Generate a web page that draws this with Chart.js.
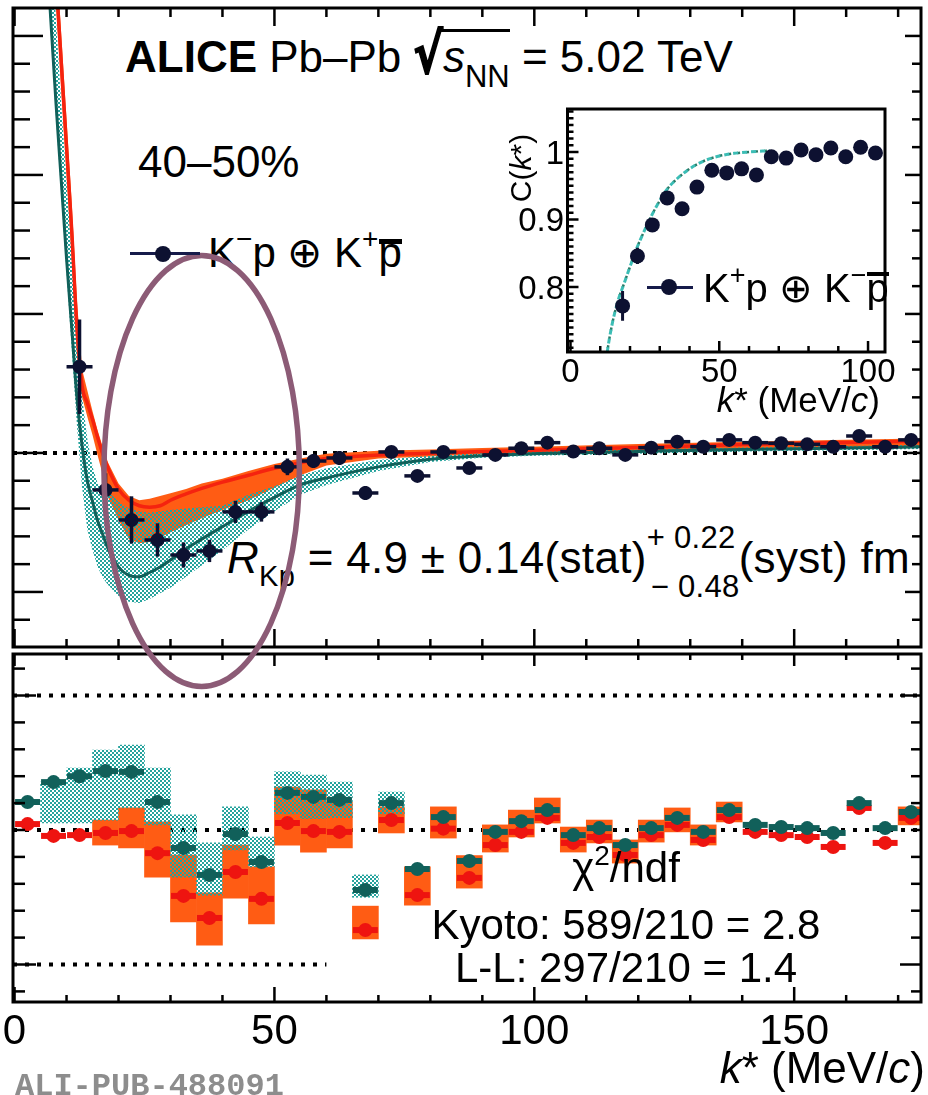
<!DOCTYPE html>
<html>
<head>
<meta charset="utf-8">
<title>K⁻p correlation function, Pb–Pb 5.02 TeV, 40–50%</title>
<script src="https://cdn.jsdelivr.net/npm/chart.js@4.4.1/dist/chart.umd.min.js"></script>
<style>
  html, body { margin: 0; padding: 0; background: #fff; }
  #fig { position: relative; width: 928px; height: 1095px; overflow: hidden; background: #fff;
         font-family: "Liberation Sans", Arial, Helvetica, sans-serif; color: #000; }
  #fig canvas { position: absolute; }
  #cLower { left: 0; top: 640px; z-index: 1; }
  #cMain  { left: 0; top: 0; z-index: 3; }
  #cInset { left: 560px; top: 100px; z-index: 4; }
  .t { position: absolute; white-space: nowrap; line-height: 1; z-index: 2; }
  .hi { z-index: 5; }
  .sup { position: relative; }
  .pbar { position: relative; }
  .pbar::before { content: ""; position: absolute; left: 1px; right: 0; height: 5px; background: #000; }
  .lg1 .pbar::before { top: 10px; }
  .lg2 .pbar::before { top: 6px; height: 4px; }
  .root { font-family: "DejaVu Sans", sans-serif; font-weight: bold; display: inline-block;
          transform: scale(1.0, 1.25); transform-origin: 50% 75%; -webkit-text-stroke: 1.5px #000; }
  .ovl { border-top: 3px solid #000; }
  .pm { display: inline-block; position: relative; width: 92px; height: 1px; }
  .pm span { position: absolute; font-size: 31px; line-height: 1; }
  .sym-line { position: absolute; height: 3px; background: #161b4a; z-index: 5; }
  .sym-dot { position: absolute; border-radius: 50%; background: #0d1131; z-index: 5; }
  .tick { position: absolute; white-space: nowrap; line-height: 1; z-index: 5; }
</style>
</head>
<body>
<div id="fig">
  <canvas id="cLower" width="928" height="455"></canvas>
  <canvas id="cMain" width="928" height="700"></canvas>
  <canvas id="cInset" width="335" height="262"></canvas>

  <div class="t" style="left:125px;top:35px;font-size:44px"><b>ALICE</b> Pb–Pb <span class="root">√</span><span class="ovl"><i>s</i><span class="sup" style="top:15px;font-size:31px">NN</span></span> = 5.02 TeV</div>
  <div class="t" style="left:138px;top:140px;font-size:44px">40–50%</div>

  <div class="sym-line" style="left:130px;top:252px;width:70px"></div>
  <div class="sym-dot" style="left:155px;top:246px;width:16px;height:16px"></div>
  <div class="t lg1" style="left:208px;top:232px;font-size:42px">K<span class="sup" style="top:-19px;font-size:28px">−</span>p ⊕ K<span class="sup" style="top:-19px;font-size:28px">+</span><span class="pbar">p</span></div>

  <div class="t" style="left:227px;top:536px;font-size:44px;letter-spacing:0.3px"><i>R</i><span class="sup" style="top:13px;font-size:29px">Kp</span> = 4.9 ± 0.14(stat)<span class="pm"><span style="left:0;top:-50px">+ 0.22</span><span style="left:4px;top:-1px">− 0.48</span></span>(syst) fm</div>

  <div class="t" style="left:376px;width:500px;text-align:center;top:847px;font-size:42px">χ<span class="sup" style="top:-17px;font-size:28px">2</span>/ndf</div>
  <div class="t" style="left:376px;width:500px;text-align:center;top:904px;font-size:42px">Kyoto: 589/210 = 2.8</div>
  <div class="t" style="left:376px;width:500px;text-align:center;top:947px;font-size:42px">L-L: 297/210 = 1.4</div>

  <div id="xLabels"></div>
  <div class="t" style="right:3px;top:1046px;font-size:44px"><i>k</i>* (MeV/<i>c</i>)</div>
  <div class="t" style="left:15px;top:1071px;font-size:32px;font-family:'Liberation Mono',monospace;font-weight:bold;color:#8d8d8d">ALI-PUB-488091</div>

  <div id="insetLabels"></div>
  <div class="t hi" style="left:521px;top:168px;font-size:30px;transform:translate(-50%,-50%) rotate(-90deg)">C(<i>k</i>*)</div>
  <div class="t hi" style="right:48px;top:382px;font-size:35px"><i>k</i>* (MeV/<i>c</i>)</div>
  <div class="sym-line" style="left:647px;top:286px;width:46px"></div>
  <div class="sym-dot" style="left:661px;top:279px;width:16px;height:16px"></div>
  <div class="t hi lg2" style="left:703px;top:268px;font-size:40px">K<span class="sup" style="top:-18px;font-size:27px">+</span>p ⊕ K<span class="sup" style="top:-18px;font-size:27px">−</span><span class="pbar">p</span></div>
</div>

<script>
// ---------- K⁻p ⊕ K⁺p̄ correlation function, 40–50% ----------
const kStar = [12.5, 17.5, 22.5, 27.5, 32.5, 37.5, 42.5, 47.5, 52.5, 57.5, 62.5, 67.5, 72.5, 77.5, 82.5, 87.5,
               92.5, 97.5, 102.5, 107.5, 112.5, 117.5, 122.5, 127.5, 132.5, 137.5, 142.5, 147.5, 152.5, 157.5,
               162.5, 167.5, 172.5];
const cfMain = [1.062, 0.9734, 0.9518, 0.9374, 0.9266, 0.9295, 0.9576, 0.9576, 0.990, 0.9942, 0.9964, 0.9712,
                1.0007, 0.9835, 1.0007, 0.9892, 0.9986, 1.0034, 1.0074, 1.0010, 1.0034, 0.9986, 1.0038, 1.0081,
                1.0045, 1.0094, 1.0074, 1.0070, 1.0062, 1.0045, 1.0122, 1.0045, 1.0094];
const cfStat = [0.034, 0.012, 0.017, 0.012, 0.009, 0.008, 0.008, 0.007, 0.006, 0.005, 0.005, 0.005,
                0.004, 0.004, 0.004, 0.004, 0.004, 0.004, 0.004, 0.004, 0.004, 0.004, 0.004, 0.004,
                0.004, 0.004, 0.004, 0.004, 0.004, 0.004, 0.004, 0.004, 0.004];
const binHalfWidth = 2.5;

// ---------- model curves (Kyoto and Lednický–Lyuboshitz) ----------
const kModel    = [6, 7, 8, 9, 10, 11, 12, 13, 14, 15, 16, 17, 18, 20, 22, 24, 26, 28, 30, 33,
                   36, 40, 45, 50, 55, 60, 70, 80, 90, 100, 120, 140, 160, 176];
const kyotoLine = [1.47, 1.40, 1.34, 1.28, 1.22, 1.16, 1.09, 1.048, 1.036, 1.024, 1.011, 0.999, 0.989, 0.974,
                   0.966, 0.962, 0.961, 0.962, 0.966, 0.9705, 0.9745, 0.979, 0.984, 0.989, 0.993, 0.996,
                   0.9985, 0.9998, 1.001, 1.002, 1.004, 1.006, 1.0075, 1.0085];
const kyotoUp   = [1.49, 1.42, 1.36, 1.30, 1.24, 1.18, 1.11, 1.06, 1.045, 1.03, 1.016, 1.004, 0.993, 0.978,
                   0.969, 0.966, 0.967, 0.969, 0.971, 0.974, 0.978, 0.9815, 0.987, 0.992, 0.996, 0.9995,
                   1.0015, 1.0025, 1.0035, 1.0045, 1.0065, 1.008, 1.0095, 1.0105];
const kyotoLow  = [1.45, 1.38, 1.32, 1.26, 1.20, 1.14, 1.07, 1.04, 1.026, 1.013, 0.998, 0.984, 0.968, 0.952,
                   0.938, 0.935, 0.936, 0.939, 0.943, 0.948, 0.953, 0.959, 0.966, 0.975, 0.984, 0.991,
                   0.996, 0.9975, 0.999, 0.9995, 1.001, 1.002, 1.0035, 1.0045];
const llLine    = [1.37, 1.31, 1.25, 1.195, 1.14, 1.09, 1.04, 1.005, 0.98, 0.965, 0.951, 0.941, 0.931, 0.918,
                   0.912, 0.911, 0.914, 0.918, 0.923, 0.931, 0.938, 0.947, 0.958, 0.968, 0.977, 0.982,
                   0.990, 0.9955, 0.998, 0.9995, 1.001, 1.0025, 1.0035, 1.0045];
const llUp      = [1.43, 1.37, 1.31, 1.25, 1.195, 1.14, 1.085, 1.04, 1.01, 0.99, 0.978, 0.975, 0.972, 0.965,
                   0.96, 0.958, 0.957, 0.958, 0.959, 0.96, 0.961, 0.962, 0.97, 0.976, 0.984, 0.989,
                   0.995, 0.998, 1.0, 1.001, 1.0025, 1.004, 1.005, 1.006];
const llLow     = [1.36, 1.30, 1.24, 1.185, 1.13, 1.075, 1.02, 0.975, 0.945, 0.93, 0.918, 0.91, 0.905, 0.897,
                   0.893, 0.892, 0.895, 0.899, 0.903, 0.911, 0.919, 0.93, 0.945, 0.958, 0.970, 0.977,
                   0.987, 0.9935, 0.9965, 0.998, 0.9995, 1.001, 1.002, 1.003];

// ---------- deviation panel (n sigma per bin) ----------
const kDev = [2.5, 7.5, 12.5, 17.5, 22.5, 27.5, 32.5, 37.5, 42.5, 47.5, 52.5, 57.5, 62.5, 67.5, 72.5, 77.5,
              82.5, 87.5, 92.5, 97.5, 102.5, 107.5, 112.5, 117.5, 122.5, 127.5, 132.5, 137.5, 142.5, 147.5,
              152.5, 157.5, 162.5, 167.5, 172.5];
const devLL    = [1.04, 1.78, 2.0, 2.19, 2.16, 1.04, -0.67, -1.67, -0.15, -1.19, 1.38, 1.23, 1.12, -2.23, 1.0,
                  -1.45, 0.48, -1.15, -0.07, 0.33, 0.74, -0.19, 0.07, -0.56, 0.07, 0.45, -0.07, 0.74, 0.19,
                  0.11, 0.07, -0.11, 1.0, 0.07, 0.67];
const devKyoto = [0.22, -0.22, -0.19, -0.11, -0.04, -0.86, -2.45, -3.27, -1.56, -2.56, 0.26, -0.04, -0.07,
                  -3.72, 0.37, -2.42, 0.05, -1.78, -0.56, -0.07, 0.45, -0.48, -0.26, -0.93, -0.19, 0.19,
                  -0.37, 0.48, -0.07, -0.19, -0.26, -0.63, 0.82, -0.48, 0.45];
const sysKyoto = [null, null, null, [-0.56, 0.37], [-0.67, 0.82], [-1.75, 0.3], [-3.42, -0.93], [-4.28, -2.34],
                  [-2.53, -0.56], [-3.49, -1.37], [-0.56, 1.6], [-0.82, 1.49], [-0.67, 1.04], [-4.05, -2.83],
                  [-0.11, 0.86], [-2.79, -1.37], [-0.3, 0.86], [-2.16, -0.95], [-0.82, 0.19], [-0.26, 0.74],
                  [0.26, 1.19], [-0.82, 0.11], [-0.48, 0.37], [-1.23, -0.37], [-0.45, 0.37], [-0.07, 0.82],
                  [-0.56, 0.19], [0.3, 1.04], null, null, null, null, null, null, [0.19, 0.86]];
const sysLL    = [null, [0.26, 1.78], [0.26, 2.3], [0.37, 2.97], [0.82, 3.16], [0.19, 2.3], [-1.75, 0.56],
                  [-2.42, -0.48], [-0.74, 0.86], [-1.37, -0.26], [0.6, 2.16], [0.42, 2.04], [0.46, 1.78],
                  [-2.5, -1.67], [0.6, 1.41], null, null, null, null, null, null, null, null, null, null,
                  null, null, null, null, null, null, null, null, null, null];

// ---------- inset: K⁺p ⊕ K⁻p̄ ----------
const kInset       = [17.5, 22.5, 27.5, 32.5, 37.5, 42.5, 47.5, 52.5, 57.5, 62.5, 67.5, 72.5, 77.5, 82.5,
                      87.5, 92.5, 97.5, 102.5];
const cfInset      = [0.772, 0.846, 0.892, 0.932, 0.916, 0.948, 0.973, 0.969, 0.975, 0.966, 0.993, 0.991,
                      1.003, 0.996, 1.006, 0.993, 1.007, 0.9985];
const cfInsetStat  = [0.022, 0.012, 0.009, 0.008, 0.007, 0.006, 0.006, 0.005, 0.005, 0.005, 0.004, 0.004,
                      0.004, 0.004, 0.004, 0.004, 0.004, 0.004];
const kInsetModel  = [12.0, 12.4, 14, 16, 18, 20, 22.5, 25, 27.5, 30, 32.5, 35, 40, 45, 50, 55, 60, 67];
const cfInsetModel = [0.69, 0.705, 0.745, 0.78, 0.805, 0.83, 0.86, 0.885, 0.908, 0.928, 0.945, 0.957,
                      0.975, 0.987, 0.994, 0.998, 1.0, 1.002];

// ---------- axis labels ----------
const xTickValues = [0, 50, 100, 150];
const xTickLabels = ['0', '50', '100', '150'];
const insetXTickValues = [0, 50, 100];
const insetXTickLabels = ['0', '50', '100'];
const insetYTickValues = [1.0, 0.9, 0.8];
const insetYTickLabels = ['1', '0.9', '0.8'];

// ---------- colours ----------
const C_DATA = '#0d1131';
const C_RED = '#f5230f';
const C_RED_PT = '#ee1410';
const C_ORANGE = '#ff5c14';
const C_TEAL_DARK = '#11605a';
const C_TEAL = '#25a39d';
const C_RING = '#8c5b76';

function checker(color) {
  const c = document.createElement('canvas');
  c.width = 4; c.height = 4;
  const g = c.getContext('2d');
  g.fillStyle = color;
  g.fillRect(0, 0, 2, 2);
  g.fillRect(2, 2, 2, 2);
  return g.createPattern(c, 'repeat');
}

const pts = (xs, ys) => xs.map((x, i) => ({ x: x, y: ys[i] }));
// closed outline of a band: upper edge left to right, lower edge back
const bandOutline = (xs, up, low) => pts(xs, up).concat(pts(xs, low).reverse());
const seq = (a, b, s) => { const o = []; for (let v = a; v <= b + 1e-9; v += s) o.push(Math.round(v * 1000) / 1000); return o; };

// tick layout per panel (lengths in px: [major, minor])
const FRAMES = {
  cMain:  { xTicks: seq(0, 170, 10), xMajor: [0, 50, 100, 150], yTicks: seq(0.88, 1.30, 0.02), yMajor: [0.9, 1.0, 1.1, 1.2, 1.3],
            bottom: [18, 8], top: [18, 9], left: [30, 17], right: [16, 9] },
  cLower: { xTicks: seq(0, 170, 10), xMajor: [0, 50, 100, 150], yTicks: seq(-6, 6, 1), yMajor: [-5, 5],
            bottom: [15, 7], top: [12, 6], left: [23, 12], right: [21, 10] },
  cInset: { xTicks: seq(0, 100, 10), xMajor: [0, 50, 100], yTicks: seq(0.71, 1.06, 0.01), yMajor: [0.8, 0.9, 1.0],
            bottom: [11, 6], top: null, left: [11, 6], right: null, background: '#fff' }
};

const errorBarPlugin = {
  id: 'errorBars',
  beforeDatasetDraw(chart, args) {
    const ds = chart.data.datasets[args.index];
    const eb = ds.errorBars;
    if (!eb) return;
    const xs = chart.scales.x, ys = chart.scales.y, ctx = chart.ctx, a = chart.chartArea;
    ctx.save();
    ctx.beginPath(); ctx.rect(a.left, a.top, a.right - a.left, a.bottom - a.top); ctx.clip();
    ctx.strokeStyle = eb.color; ctx.lineCap = 'butt';
    ds.data.forEach(p => {
      const px = xs.getPixelForValue(p.x), py = ys.getPixelForValue(p.y);
      if (p.xe) {
        ctx.lineWidth = eb.h;
        ctx.beginPath();
        ctx.moveTo(xs.getPixelForValue(p.x - p.xe), py);
        ctx.lineTo(xs.getPixelForValue(p.x + p.xe), py);
        ctx.stroke();
      }
      if (p.ye) {
        ctx.lineWidth = eb.v;
        ctx.beginPath();
        ctx.moveTo(px, ys.getPixelForValue(p.y - p.ye));
        ctx.lineTo(px, ys.getPixelForValue(p.y + p.ye));
        ctx.stroke();
      }
    });
    ctx.restore();
  }
};

const framePlugin = {
  id: 'frameTicks',
  beforeDraw(chart) {
    const f = FRAMES[chart.canvas.id];
    if (!f || !f.background) return;
    const a = chart.chartArea, ctx = chart.ctx;
    ctx.save(); ctx.fillStyle = f.background;
    ctx.fillRect(a.left, a.top, a.right - a.left, a.bottom - a.top);
    ctx.restore();
  },
  afterDatasetsDraw(chart) {
    const f = FRAMES[chart.canvas.id];
    if (!f) return;
    const a = chart.chartArea, ctx = chart.ctx, xs = chart.scales.x, ys = chart.scales.y;
    ctx.save();
    ctx.strokeStyle = '#000'; ctx.lineWidth = 2.5; ctx.lineCap = 'butt';
    const seg = (x1, y1, x2, y2) => { ctx.beginPath(); ctx.moveTo(x1, y1); ctx.lineTo(x2, y2); ctx.stroke(); };
    const isMajor = (list, v) => list.some(m => Math.abs(m - v) < 1e-6);
    f.xTicks.forEach(v => {
      const px = xs.getPixelForValue(v);
      if (px < a.left + 1 || px > a.right - 1) return;
      const mj = isMajor(f.xMajor, v);
      if (f.bottom) seg(px, a.bottom, px, a.bottom - (mj ? f.bottom[0] : f.bottom[1]));
      if (f.top) seg(px, a.top, px, a.top + (mj ? f.top[0] : f.top[1]));
    });
    f.yTicks.forEach(v => {
      const py = ys.getPixelForValue(v);
      if (py < a.top + 1 || py > a.bottom - 1) return;
      const mj = isMajor(f.yMajor, v);
      if (f.left) seg(a.left, py, a.left + (mj ? f.left[0] : f.left[1]), py);
      if (f.right) seg(a.right, py, a.right - (mj ? f.right[0] : f.right[1]), py);
    });
    ctx.lineWidth = 3;
    ctx.strokeRect(a.left, a.top, a.right - a.left, a.bottom - a.top);
    ctx.restore();
  }
};

// highlight ring around the minimum, given in (k*, C) units
const RING = { k: 36, c: 0.987, dk: 18.8, dc: 0.155 };
const ringPlugin = {
  id: 'ring',
  afterDraw(chart) {
    if (chart.canvas.id !== 'cMain') return;
    const xs = chart.scales.x, ys = chart.scales.y, ctx = chart.ctx;
    const cx = xs.getPixelForValue(RING.k), cy = ys.getPixelForValue(RING.c);
    const rx = xs.getPixelForValue(RING.k + RING.dk) - cx;
    const ry = cy - ys.getPixelForValue(RING.c + RING.dc);
    ctx.save();
    ctx.strokeStyle = C_RING; ctx.lineWidth = 5.5;
    ctx.beginPath(); ctx.ellipse(cx, cy, rx, ry, 0, 0, Math.PI * 2); ctx.stroke();
    ctx.restore();
  }
};

Chart.register(errorBarPlugin, framePlugin, ringPlugin);

const common = {
  responsive: false, animation: false, events: [],
  plugins: { legend: { display: false }, tooltip: { enabled: false } },
  elements: { point: { radius: 0 },
              line: { cubicInterpolationMode: 'monotone', borderCapStyle: 'butt', capBezierPoints: false } }
};
const noLine = 'rgba(0,0,0,0)';
const dotted = (data, dash) => ({ type: 'line', data: data, borderColor: '#000', borderWidth: 4,
  borderDash: dash, cubicInterpolationMode: 'default', tension: 0, pointRadius: 0, fill: false });
const band = (label, order, data, color) => ({ label: label, order: order, data: data, borderColor: noLine,
  borderWidth: 0, backgroundColor: color, fill: 'shape', cubicInterpolationMode: 'default', tension: 0 });

// ---------- upper panel ----------
const mainChart = new Chart(document.getElementById('cMain'), {
  type: 'line',
  data: { datasets: [
    { type: 'scatter', label: 'K⁻p ⊕ K⁺p̄', order: 0,
      data: kStar.map((k, i) => ({ x: k, y: cfMain[i], xe: binHalfWidth, ye: cfStat[i] })),
      pointRadius: 7, pointBackgroundColor: C_DATA, pointBorderWidth: 0, showLine: false,
      errorBars: { color: C_DATA, h: 3.5, v: 3.5 } },
    { label: 'L-L', order: 1, data: pts(kModel, llLine), borderColor: C_TEAL_DARK, borderWidth: 3, fill: false },
    { label: 'Kyoto', order: 2, data: pts(kModel, kyotoLine), borderColor: C_RED, borderWidth: 3.5, fill: false },
    band('L-L band', 3, bandOutline(kModel, llUp, llLow), checker(C_TEAL)),
    band('Kyoto band', 4, bandOutline(kModel, kyotoUp, kyotoLow), C_ORANGE),
    Object.assign(dotted([{ x: -0.3, y: 1 }, { x: 174.4, y: 1 }], [4, 6]), { label: 'C = 1', order: 5 })
  ]},
  options: Object.assign({}, common, {
    layout: { padding: { left: 13, right: 5, top: 8, bottom: 53 } },
    scales: {
      x: { type: 'linear', min: -0.3, max: 174.4, display: false },
      y: { type: 'linear', min: 0.8604, max: 1.3201, display: false }
    }
  })
});

// ---------- lower panel ----------
const boxes = list => kDev.map((k, i) => list[i] ? { x: k, y: list[i] } : null).filter(Boolean);
const lowerChart = new Chart(document.getElementById('cLower'), {
  type: 'bar',
  data: { datasets: [
    { type: 'scatter', label: 'L-L', order: 0,
      data: kDev.map((k, i) => ({ x: k, y: devLL[i], xe: 2.4 })),
      pointRadius: 7, pointBackgroundColor: C_TEAL_DARK, pointBorderWidth: 0,
      errorBars: { color: C_TEAL_DARK, h: 6, v: 0 } },
    { type: 'scatter', label: 'Kyoto', order: 1,
      data: kDev.map((k, i) => ({ x: k, y: devKyoto[i], xe: 2.4 })),
      pointRadius: 7, pointBackgroundColor: C_RED_PT, pointBorderWidth: 0,
      errorBars: { color: C_RED_PT, h: 6, v: 0 } },
    { type: 'bar', label: 'L-L syst', order: 2, data: boxes(sysLL), backgroundColor: checker(C_TEAL),
      grouped: false, barPercentage: 1, categoryPercentage: 1, borderWidth: 0 },
    { type: 'bar', label: 'Kyoto syst', order: 3, data: boxes(sysKyoto), backgroundColor: C_ORANGE,
      grouped: false, barPercentage: 1, categoryPercentage: 1, borderWidth: 0 },
    Object.assign(dotted([{ x: -0.3, y: 5 }, { x: 174.4, y: 5 }], [4, 8]), { order: 4 }),
    Object.assign(dotted([{ x: -0.3, y: 0 }, { x: 174.4, y: 0 }], [4, 8]), { order: 5 }),
    Object.assign(dotted([{ x: -0.3, y: -5 }, { x: 60, y: -5 }], [4, 8]), { order: 6 })
  ]},
  options: Object.assign({}, common, {
    layout: { padding: { left: 13, right: 5, top: 14, bottom: 93 } },
    scales: {
      x: { type: 'linear', min: -0.3, max: 174.4, display: false, offset: false,
           afterBuildTicks: s => { s.ticks = kDev.map(v => ({ value: v })); } },
      y: { type: 'linear', min: -6.394, max: 6.543, display: false }
    }
  })
});

// ---------- inset ----------
const insetChart = new Chart(document.getElementById('cInset'), {
  type: 'line',
  data: { datasets: [
    { type: 'scatter', label: 'K⁺p ⊕ K⁻p̄', order: 0,
      data: kInset.map((k, i) => ({ x: k, y: cfInset[i], ye: cfInsetStat[i] })),
      pointRadius: 7.5, pointBackgroundColor: C_DATA, pointBorderWidth: 0,
      errorBars: { color: C_DATA, h: 0, v: 3 } },
    { label: 'model', order: 1, data: pts(kInsetModel, cfInsetModel), borderColor: '#3cbdb5',
      borderWidth: 3, borderDash: [5, 4], fill: false },
    { label: 'model', order: 2, data: pts(kInsetModel, cfInsetModel), borderColor: '#2a7a66',
      borderWidth: 2.5, borderDash: [3, 6], borderDashOffset: 5, fill: false }
  ]},
  options: Object.assign({}, common, {
    layout: { padding: { left: 7, right: 10, top: 9, bottom: 10 } },
    scales: {
      x: { type: 'linear', min: -1.007, max: 105.7, display: false },
      y: { type: 'linear', min: 0.7037, max: 1.0637, display: false }
    }
  })
});

// ---------- tick labels placed from the chart scales ----------
(function placeLabels() {
  const xl = document.getElementById('xLabels');
  const sx = lowerChart.scales.x;
  xTickValues.forEach((v, i) => {
    const d = document.createElement('div');
    d.className = 't';
    d.style.cssText = 'font-size:42px;top:1009px;left:' + sx.getPixelForValue(v) + 'px;transform:translateX(-50%)';
    d.textContent = xTickLabels[i];
    xl.appendChild(d);
  });
  const il = document.getElementById('insetLabels');
  const ix = insetChart.scales.x, iy = insetChart.scales.y;
  const offX = 560, offY = 100;
  insetXTickValues.forEach((v, i) => {
    const d = document.createElement('div');
    d.className = 'tick';
    d.style.cssText = 'font-size:33px;top:354px;left:' + (offX + ix.getPixelForValue(v)) + 'px;transform:translateX(-50%)';
    d.textContent = insetXTickLabels[i];
    il.appendChild(d);
  });
  insetYTickValues.forEach((v, i) => {
    const d = document.createElement('div');
    d.className = 'tick';
    d.style.cssText = 'font-size:33px;left:564px;top:' + (offY + iy.getPixelForValue(v)) + 'px;transform:translate(-100%,-50%)';
    d.textContent = insetYTickLabels[i];
    il.appendChild(d);
  });
})();
</script>
</body>
</html>
